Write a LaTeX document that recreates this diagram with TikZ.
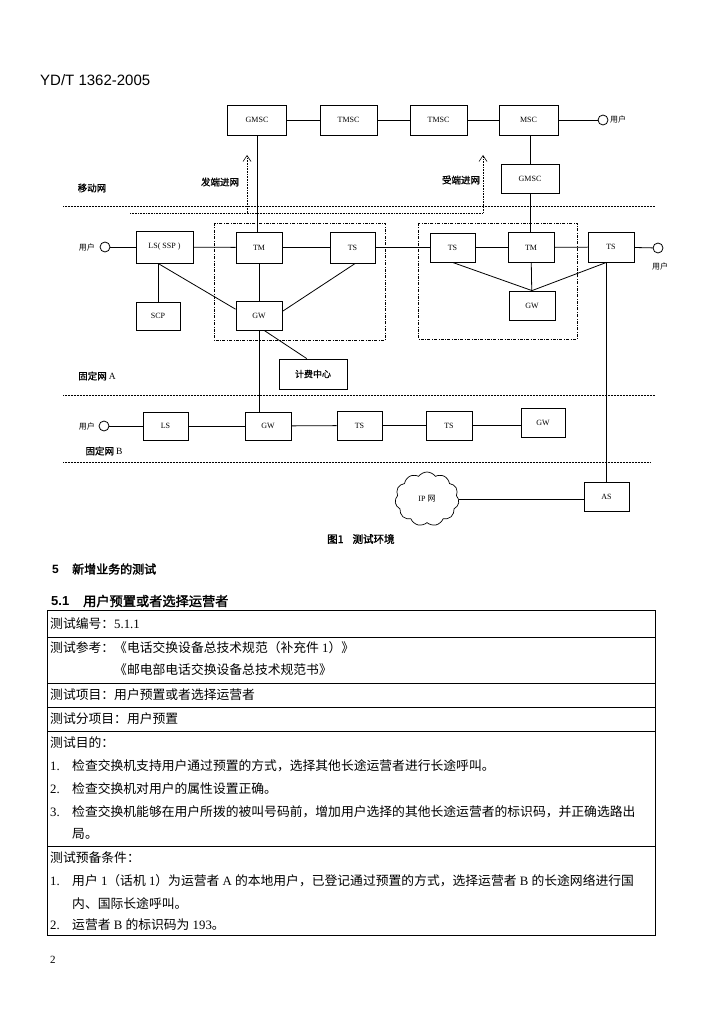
\documentclass[tikz,border=0pt]{standalone}
\usepackage{fontspec}
\setmainfont{Liberation Serif}
\newfontfamily\zhfont{Noto Sans CJK SC}
\newfontfamily\zhbold[FakeBold=2]{Noto Sans CJK SC}
\newfontfamily\zhmid[FakeBold=1]{Noto Sans CJK SC}
\newfontfamily\hdfont{Liberation Sans}
\newcommand\zh[1]{{\zhfont #1}}
\newcommand\zhb[1]{{\zhbold #1}}
\usetikzlibrary{arrows.meta,shapes.symbols}
\begin{document}
\begin{tikzpicture}[x=1pt,y=-1pt,
  bx/.style={draw, line width=0.8pt, inner sep=0pt, font=\fontsize{8}{9}\selectfont},
  bxs/.style 2 args={minimum width=#1pt, minimum height=#2pt},
  ln/.style={line width=0.8pt},
  sepl/.style={densely dotted, line width=0.5pt},
  grp/.style={dash pattern=on 3pt off 1.5pt on 0.6pt off 1.5pt, line width=0.5pt},
  arr/.style={densely dotted, line width=0.6pt, -{Straight Barb[length=6pt,width=8pt]}},
  usr/.style={circle, draw, line width=0.8pt, minimum size=10pt, inner sep=0pt},
  ulbl/.style={inner sep=0pt, font=\zhfont\fontsize{8}{9}\selectfont},
  zlbl/.style={inner sep=0pt, font=\zhmid\fontsize{9.5}{10}\selectfont},
  tx/.style={anchor=west, inner sep=0pt, font=\fontsize{12.8}{14}\selectfont},
  tbl/.style={line width=0.8pt}
]
\useasboundingbox (0,0) rectangle (701,1024);
\fill[white] (0,0) rectangle (701,1024);

% header
\node[anchor=west, inner sep=0pt, font=\hdfont\fontsize{15}{16}\selectfont] (hdr) at (40,80) {YD/T 1362-2005};

% separators
\coordinate (s1a) at (63,206); \coordinate (s1b) at (655,206);
\coordinate (s2a) at (63,395); \coordinate (s2b) at (655,395);
\coordinate (s3a) at (63,462); \coordinate (s3b) at (650,462);
\draw[sepl] (s1a) -- (s1b);
\draw[sepl] (s2a) -- (s2b);
\draw[sepl] (s3a) -- (s3b);

% group boxes
\draw[grp] (214,223) rectangle (385,340);
\draw[grp] (418,223) rectangle (577,339);

% top row
\node[bx,bxs={59}{30}] (gmsc1) at (257,120) {GMSC};
\node[bx,bxs={57}{30}] (tmsc1) at (348.5,120) {TMSC};
\node[bx,bxs={57}{30}] (tmsc2) at (438.5,120) {TMSC};
\node[bx,bxs={59}{30}] (msc) at (528.5,120) {MSC};
\node[usr] (uT) at (603,120) {};
\node[ulbl,anchor=west] (uTl) at (610,119) {用户};
\node[bx,bxs={58}{29}] (gmsc2) at (530,178.5) {GMSC};

% middle row (fixed A)
\node[usr] (uL) at (105,247) {};
\node[ulbl,anchor=east] (uLl) at (95,247) {用户};
\node[bx,bxs={57}{32}] (lsssp) at (164.5,247) {LS( SSP )};
\node[bx,bxs={46}{31}] (tm) at (259,247.5) {TM};
\node[bx,bxs={45}{31}] (ts) at (352.5,247.5) {TS};
\node[bx,bxs={45}{29}] (ts2) at (452.5,247.5) {TS};
\node[bx,bxs={46}{30}] (tm2) at (531,247.5) {TM};
\node[bx,bxs={46}{30}] (ts3) at (611,247) {TS};
\node[usr] (uR) at (658,248) {};
\node[ulbl] (uRl) at (660,266) {用户};

\node[bx,bxs={44}{28}] (scp) at (158,316) {SCP};
\node[bx,bxs={46}{29}] (gwA) at (259,315.5) {GW};
\node[bx,bxs={68}{30},font=\zhmid\fontsize{9}{10}\selectfont] (jf) at (313,374) {计费中心};
\node[bx,bxs={46}{29}] (gw2) at (532,305.5) {GW};

% fixed B row
\node[usr] (uB) at (104,426) {};
\node[ulbl,anchor=east] (uBl) at (95,426) {用户};
\node[bx,bxs={45}{28}] (lsB) at (165.5,426) {LS};
\node[bx,bxs={46}{28}] (gwB) at (268,426) {GW};
\node[bx,bxs={45}{29}] (tsB1) at (359.5,425.5) {TS};
\node[bx,bxs={46}{29}] (tsB2) at (449,425.5) {TS};
\node[bx,bxs={44}{29}] (gwB2) at (543,422.5) {GW};

% IP and AS
\node[cloud, draw, line width=0.7pt, cloud puffs=11, cloud puff arc=110, aspect=1.15,
      minimum width=64pt, minimum height=54pt, inner sep=0pt,
      font=\fontsize{8}{9}\selectfont] (ip) at (427,499) {IP \zh{网}};
\node[bx,bxs={45}{29}] (as) at (606.5,496.5) {AS};

% labels
\node[zlbl] (lydw) at (92,188) {移动网};
\node[zlbl] (lfd) at (220,182) {发端进网};
\node[zlbl] (lsd) at (461,180) {受端进网};
\node[zlbl] (lgA) at (97,376) {固定网 \rmfamily A};
\node[zlbl] (lgB) at (104,451) {固定网 \rmfamily B};

% dotted arrows
\coordinate (a1s) at (247,213); \coordinate (a1e) at (247,155);
\coordinate (a2s) at (130,213); \coordinate (a2m) at (483,213); \coordinate (a2e) at (483,155);
\draw[arr] (a1s) -- (a1e);
\draw[arr] (a2s) -- (a2m) -- (a2e);

% top connections
\draw[ln] (gmsc1) -- (tmsc1);
\draw[ln] (tmsc1) -- (tmsc2);
\draw[ln] (tmsc2) -- (msc);
\draw[ln] (msc) -- (uT);
\draw[ln] (gmsc2.north |- msc.south) -- (gmsc2.north);
\draw[ln] (gmsc1.south) -- (gmsc1.south |- tm.north);
\draw[ln] (gmsc2.south) -- (gmsc2.south |- tm2.north);

% middle connections
\draw[ln] (uL) -- (lsssp);
\draw[ln] (lsssp) -- (tm);
\draw[ln] (tm) -- (ts);
\draw[ln] (ts) -- (ts2);
\draw[ln] (ts2) -- (tm2);
\draw[ln] (tm2) -- (ts3);
\draw[ln] (ts3) -- (uR);
\draw[ln] (scp.north) -- (scp.north |- lsssp.south);
\draw[ln] (scp.north |- lsssp.south) -- (gwA.165);
\draw[ln] (tm) -- (gwA);
\draw[ln] (ts.-80) -- (gwA.10);
\draw[ln] (gwA.-71) -- (jf.112);
\draw[ln] (ts2.south) -- (gw2.north);
\draw[ln] (tm2) -- (gw2);
\draw[ln] (as.north |- ts3.south) -- (gw2.north);
\draw[ln] (as.north |- ts3.south) -- (as.north);
\draw[ln] (gwA.south) -- (gwA.south |- gwB.north);

% fixed B connections
\draw[ln] (uB) -- (lsB);
\draw[ln] (lsB) -- (gwB);
\draw[ln] (gwB) -- (tsB1);
\draw[ln] (tsB1) -- (tsB2);
\draw[ln] (tsB2.east) -- (tsB2.east -| gwB2.west);
\draw[ln] (ip.east) -- (ip.east -| as.west);

% caption
\node[anchor=west, inner sep=0pt, font=\zhbold\fontsize{10.5}{11}\selectfont] (cap) at (327,539) {图1\hspace{9pt}测试环境};

% section headings
\node[anchor=west, inner sep=0pt, font=\hdfont\bfseries\fontsize{12}{13}\selectfont] (h5n) at (52,569) {5};
\node[anchor=west, inner sep=0pt, font=\zhbold\fontsize{12}{13}\selectfont] (h5t) at (72,569) {新增业务的测试};
\node[anchor=west, inner sep=0pt, font=\hdfont\bfseries\fontsize{13}{14}\selectfont] (h51n) at (51,601) {5.1};
\node[anchor=west, inner sep=0pt, font=\zhbold\fontsize{13.2}{14}\selectfont] (h51t) at (83,601) {用户预置或者选择运营者};

% table
\draw[tbl] (47,610) rectangle (655,935);
\draw[tbl] (47,637) -- (655,637);
\draw[tbl] (47,683) -- (655,683);
\draw[tbl] (47,707) -- (655,707);
\draw[tbl] (47,731) -- (655,731);
\draw[tbl] (47,846) -- (655,846);

\node[tx] (r1) at (50,624) {\zh{测试编号：}5.1.1};
\node[tx] (r2) at (50,648) {\zh{测试参考：《电话交换设备总技术规范（补充件} 1\zh{）》}};
\node[tx] (r2b) at (114,670) {\zh{《邮电部电话交换设备总技术规范书》}};
\node[tx] (r3) at (50,695) {\zh{测试项目：用户预置或者选择运营者}};
\node[tx] (r4) at (50,719) {\zh{测试分项目：用户预置}};
\node[tx] (r5) at (50,743) {\zh{测试目的：}};
\node[tx] (r5n1) at (50,766) {1.};
\node[tx] (r5t1) at (72,766) {\zh{检查交换机支持用户通过预置的方式，选择其他长途运营者进行长途呼叫。}};
\node[tx] (r5n2) at (50,789) {2.};
\node[tx] (r5t2) at (72,789) {\zh{检查交换机对用户的属性设置正确。}};
\node[tx] (r5n3) at (50,812) {3.};
\node[tx] (r5t3) at (72,812) {\zh{检查交换机能够在用户所拨的被叫号码前，增加用户选择的其他长途运营者的标识码，并正确选路出}};
\node[tx] (r5t3b) at (72,834) {\zh{局。}};
\node[tx] (r6) at (50,858) {\zh{测试预备条件：}};
\node[tx] (r6n1) at (50,881) {1.};
\node[tx] (r6t1) at (72,881) {\zh{用户} 1\zh{（话机} 1\zh{）为运营者} A \zh{的本地用户，已登记通过预置的方式，选择运营者} B \zh{的长途网络进行国}};
\node[tx] (r6t1b) at (72,904) {\zh{内、国际长途呼叫。}};
\node[tx] (r6n2) at (50,925) {2.};
\node[tx] (r6t2) at (72,925) {\zh{运营者} B \zh{的标识码为} 193\zh{。}};

% page number
\node[anchor=west, inner sep=0pt, font=\fontsize{11}{12}\selectfont] (pg) at (50,960) {2};
\end{tikzpicture}
\end{document}
